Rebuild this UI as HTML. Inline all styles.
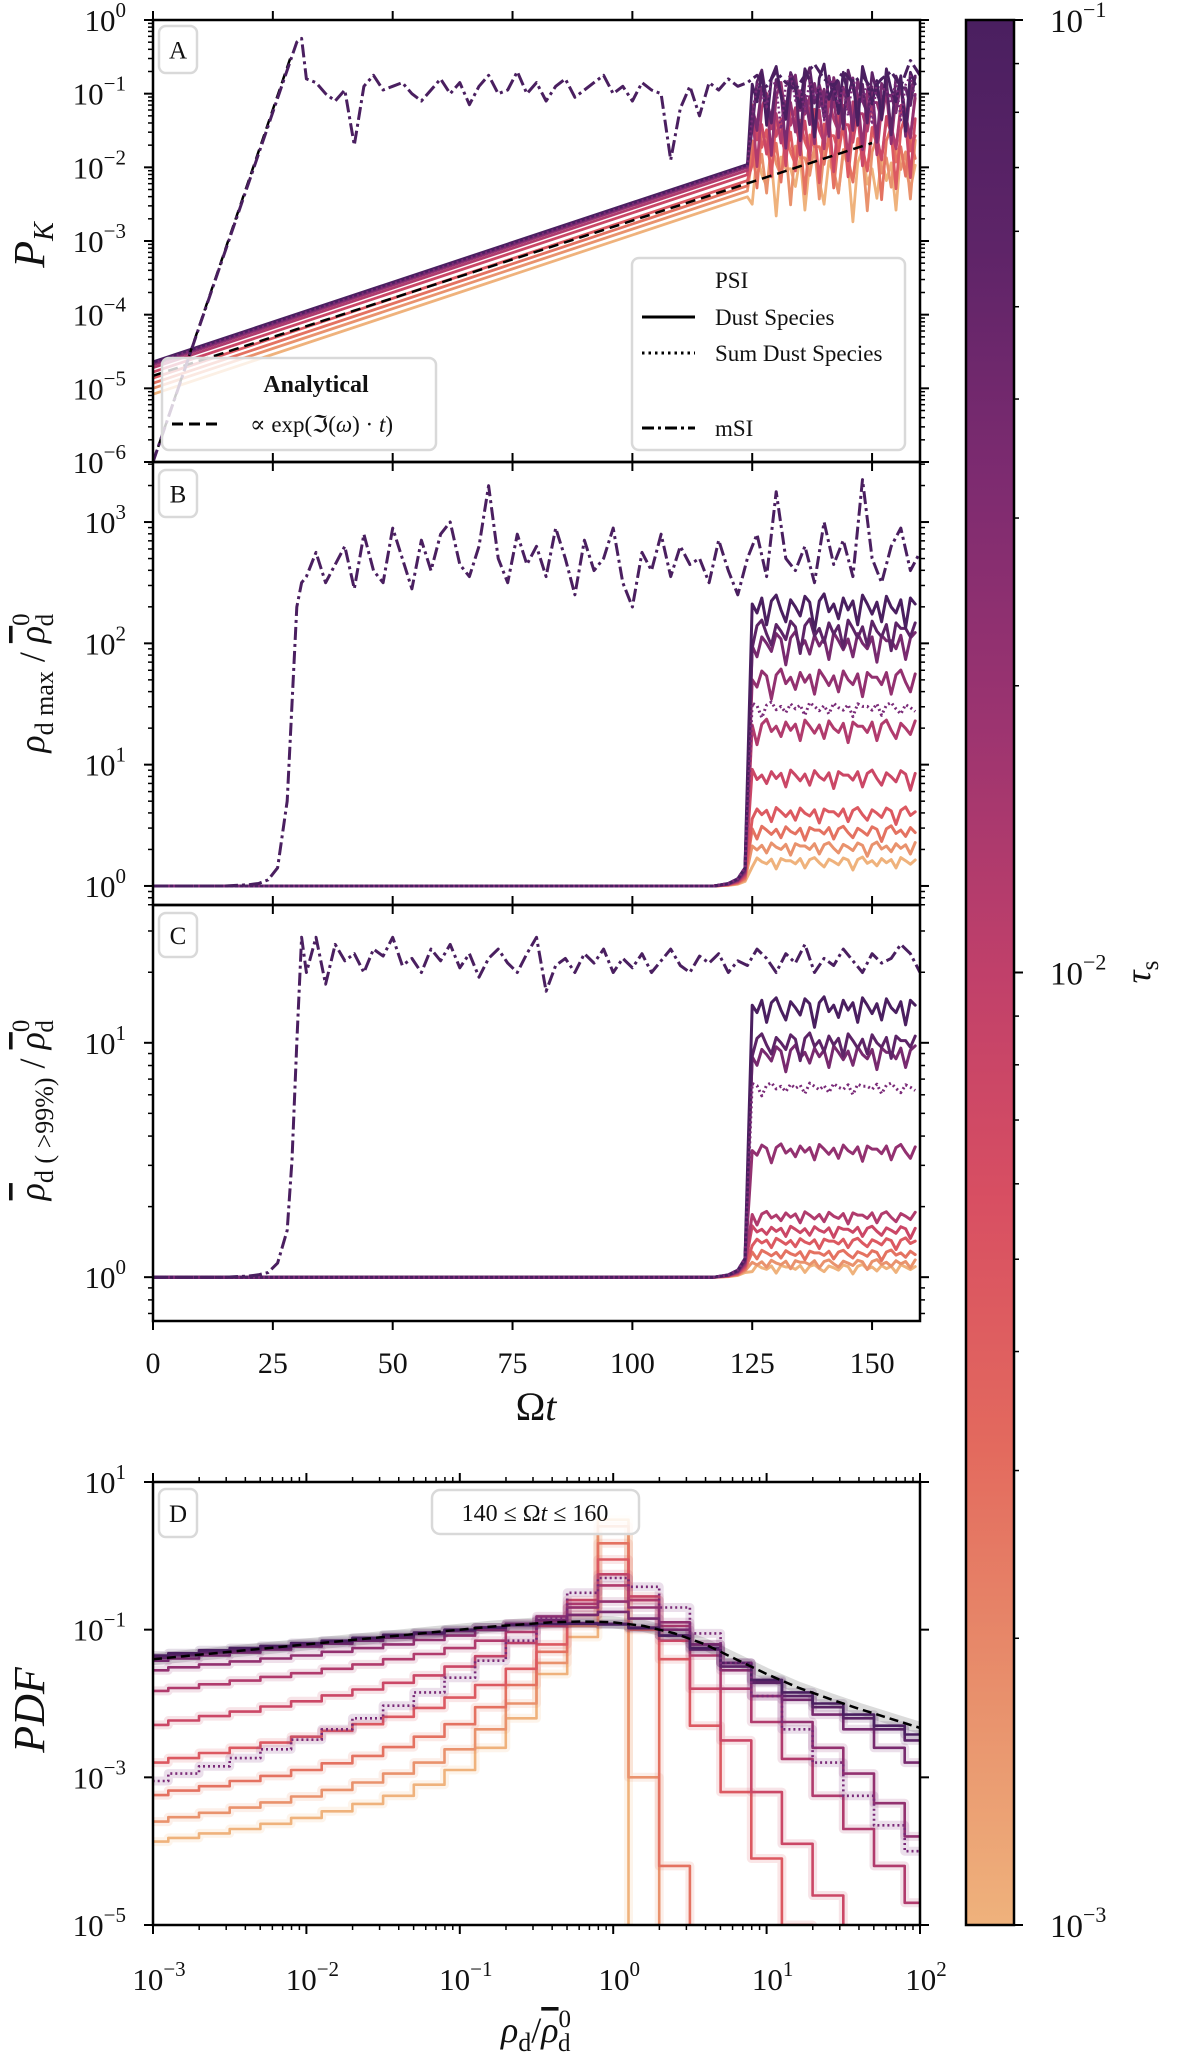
<!DOCTYPE html>
<html><head><meta charset="utf-8"><title>PSI / mSI dust evolution</title>
<style>
html,body{margin:0;padding:0;background:#fff;}
svg{display:block;}
</style></head>
<body>
<svg id="chart" xmlns="http://www.w3.org/2000/svg" width="1200" height="2062" viewBox="0 0 1200 2062" font-family="'Liberation Serif', 'DejaVu Serif', serif">
<defs>
<linearGradient id="cbgrad" x1="0" y1="0" x2="0" y2="1">
<stop offset="0" stop-color="#4a1f60"/><stop offset="0.12" stop-color="#5e2468"/><stop offset="0.24" stop-color="#7d2b70"/>
<stop offset="0.37" stop-color="#9c3470"/><stop offset="0.5" stop-color="#c0406a"/><stop offset="0.62" stop-color="#d84f62"/>
<stop offset="0.75" stop-color="#e36a5e"/><stop offset="0.88" stop-color="#e8906c"/><stop offset="1" stop-color="#efb27c"/>
</linearGradient>
<clipPath id="clipA"><rect x="153" y="20" width="767" height="442"/></clipPath>
<clipPath id="clipB"><rect x="153" y="462" width="767" height="443"/></clipPath>
<clipPath id="clipC"><rect x="153" y="905" width="767" height="416"/></clipPath>
<clipPath id="clipD"><rect x="153" y="1482" width="767" height="443"/></clipPath>
</defs>
</svg>
<script>
// ---------------- data ----------------
const TAU = [0.1, 0.0599, 0.0359, 0.0215, 0.0129, 0.00774, 0.00464, 0.00278, 0.00167, 0.001];
const A_LIN_T = [0, 124];
const A_START = [-4.64, -4.65, -4.66, -4.68, -4.72, -4.78, -4.86, -4.93, -5.0, -5.08];
const A_END = [-1.96, -1.97, -1.98, -2.0, -2.04, -2.1, -2.18, -2.25, -2.32, -2.4];
const A_SUM = [-4.66, -1.98];
const A_LEVEL = [-0.95, -1.0, -1.1, -1.2, -1.35, -1.5, -1.65, -1.8, -1.95, -2.1];
const B_LEVEL = [2.3, 2.1, 2.0, 1.7, 1.3, 0.9, 0.6, 0.45, 0.32, 0.2];
const C_LEVEL = [1.15, 1.0, 0.95, 0.54, 0.26, 0.2, 0.15, 0.1, 0.06, 0.04];
const SUM_LEVEL = [-1.0, 1.47, 0.81];
const FLUCT = [0.05,-0.1,0.15,-0.3,0.1,0.2,-0.05,-0.25,0.12,0.0,-0.15,0.18,0.08,-0.4,0.1,0.22,-0.08,0.05,-0.2,0.15,-0.05,0.1,-0.3,0.2,0.05,-0.12,0.08,-0.25,0.18,0.0,-0.1,0.12,-0.35,0.15,0.05];
const ONSET_T = [0, 117, 120, 122, 123.5];
const ONSET_B = [0, 0, 0.02, 0.06, 0.15];
const ONSET_C = [0, 0, 0.01, 0.03, 0.08];
const ANA_PSI_T = [0, 150];
const ANA_PSI = [-4.83, -1.67];
const ANA_MSI_T = [0, 29];
const ANA_MSI = [-6.0, -0.45];
const MSI_EARLY_T = [0, 5, 10, 15, 20, 22, 24, 26, 28, 29, 30, 31];
const MSI_A_EARLY = [-6.0, -5.05, -4.1, -3.15, -2.2, -1.82, -1.44, -1.06, -0.68, -0.49, -0.3, -0.25];
const MSI_B_EARLY = [0, 0, 0, 0, 0.01, 0.02, 0.05, 0.15, 0.7, 1.5, 2.3, 2.5];
const MSI_C_EARLY = [0, 0, 0, 0, 0.005, 0.01, 0.02, 0.06, 0.2, 0.5, 1.0, 1.45];
const MSI_LATE_T0 = 32;
const MSI_A_LATE = [-0.8,-0.85,-1.0,-1.1,-0.95,-1.7,-0.9,-0.75,-0.95,-0.9,-0.85,-1.0,-1.1,-0.95,-0.8,-1.0,-0.85,-1.15,-0.9,-0.75,-1.0,-0.95,-0.7,-1.0,-0.85,-1.1,-0.9,-0.8,-1.05,-0.95,-0.85,-0.75,-1.0,-0.9,-1.1,-0.85,-0.95,-1.0,-1.9,-1.2,-0.9,-1.3,-0.85,-0.95,-0.8,-0.9,-0.85,-0.75,-0.9,-0.7,-0.85,-0.95,-0.75,-0.6,-0.8,-0.9,-0.7,-0.85,-0.75,-0.95,-0.8,-0.7,-0.9,-0.55,-0.75];
const MSI_B_LATE = [2.55,2.75,2.5,2.65,2.8,2.45,2.9,2.6,2.5,2.95,2.7,2.45,2.85,2.6,2.9,3.0,2.65,2.55,2.8,3.3,2.7,2.5,2.9,2.65,2.8,2.55,2.95,2.7,2.4,2.85,2.6,2.7,2.95,2.5,2.3,2.75,2.6,2.9,2.55,2.8,2.65,2.7,2.5,2.85,2.6,2.4,2.7,2.9,2.55,3.25,2.7,2.6,2.8,2.5,3.0,2.65,2.85,2.55,3.35,2.7,2.5,2.8,2.95,2.6,2.75];
const MSI_C_LATE = [1.3,1.45,1.25,1.42,1.35,1.38,1.3,1.4,1.37,1.45,1.33,1.36,1.3,1.4,1.35,1.42,1.32,1.38,1.28,1.36,1.4,1.34,1.3,1.38,1.45,1.22,1.33,1.36,1.3,1.38,1.34,1.4,1.3,1.36,1.32,1.38,1.3,1.35,1.4,1.33,1.3,1.37,1.34,1.38,1.3,1.35,1.33,1.4,1.36,1.3,1.38,1.34,1.42,1.3,1.36,1.33,1.4,1.35,1.3,1.38,1.34,1.36,1.42,1.38,1.3];
const D_BIN0 = -3.0, D_BINW = 0.2;
const D_PDF = [
 [-1.35,-1.32,-1.28,-1.25,-1.22,-1.18,-1.15,-1.11,-1.07,-1.04,-1.0,-0.97,-0.94,-0.92,-0.92,-0.93,-0.98,-1.08,-1.25,-1.45,-1.68,-1.85,-2.0,-2.15,-2.3,-2.42],
 [-1.38,-1.35,-1.31,-1.28,-1.24,-1.2,-1.17,-1.13,-1.09,-1.05,-1.01,-0.97,-0.94,-0.92,-0.91,-0.92,-0.97,-1.08,-1.27,-1.5,-1.72,-1.9,-2.05,-2.2,-2.35,-2.5],
 [-1.42,-1.39,-1.35,-1.31,-1.27,-1.23,-1.19,-1.15,-1.11,-1.06,-1.02,-0.97,-0.92,-0.87,-0.8,-0.76,-0.85,-1.0,-1.2,-1.45,-1.7,-1.95,-2.15,-2.35,-2.6,-2.8],
 [-1.55,-1.51,-1.47,-1.43,-1.39,-1.35,-1.3,-1.25,-1.2,-1.14,-1.08,-1.0,-0.92,-0.82,-0.7,-0.62,-0.7,-0.9,-1.2,-1.55,-1.9,-2.25,-2.6,-2.95,-3.35,-3.8],
 [-1.83,-1.79,-1.74,-1.69,-1.64,-1.59,-1.53,-1.47,-1.4,-1.33,-1.25,-1.15,-1.03,-0.88,-0.65,-0.4,-0.6,-0.95,-1.35,-1.8,-2.25,-2.75,-3.25,-3.7,-4.2,-4.7],
 [-2.29,-2.23,-2.17,-2.11,-2.04,-1.97,-1.89,-1.81,-1.72,-1.62,-1.5,-1.36,-1.18,-0.95,-0.6,-0.25,-0.55,-1.15,-1.8,-2.5,-3.2,-3.9,-4.6,null,null,null],
 [-2.8,-2.74,-2.67,-2.6,-2.53,-2.45,-2.37,-2.28,-2.18,-2.06,-1.92,-1.75,-1.53,-1.2,-0.7,-0.05,-0.6,-1.4,-2.3,-3.2,-4.1,-5.0,null,null,null,null],
 [-3.24,-3.18,-3.12,-3.05,-2.98,-2.9,-2.81,-2.71,-2.59,-2.45,-2.28,-2.05,-1.75,-1.3,-0.8,0.17,-1.0,-4.2,null,null,null,null,null,null,null,null],
 [-3.6,-3.54,-3.48,-3.41,-3.34,-3.26,-3.17,-3.07,-2.95,-2.8,-2.62,-2.35,-2.0,-1.45,-0.95,0.4,-3.0,null,null,null,null,null,null,null,null,null],
 [-3.87,-3.82,-3.76,-3.7,-3.63,-3.55,-3.46,-3.36,-3.25,-3.1,-2.9,-2.6,-2.2,-1.6,-1.1,0.49,null,null,null,null,null,null,null,null,null,null]
];
const D_SUM = [-3.05,-2.95,-2.85,-2.74,-2.62,-2.49,-2.35,-2.2,-2.03,-1.85,-1.65,-1.42,-1.15,-0.85,-0.5,-0.3,-0.42,-0.7,-1.05,-1.45,-1.9,-2.35,-2.8,-3.25,-3.65,-4.0];
const D_ANA = [-1.4,-1.36,-1.32,-1.28,-1.24,-1.2,-1.16,-1.12,-1.08,-1.04,-1.0,-0.96,-0.93,-0.9,-0.89,-0.9,-0.95,-1.05,-1.2,-1.4,-1.6,-1.78,-1.93,-2.07,-2.2,-2.33];
const T_TICKS = [0, 25, 50, 75, 100, 125, 150];

// ---------------- helpers ----------------
const svg = document.getElementById('chart');
const NS = 'http://www.w3.org/2000/svg';
function mk(tag, attrs, parent) {
  const e = document.createElementNS(NS, tag);
  for (const k in attrs) e.setAttribute(k, attrs[k]);
  (parent || svg).appendChild(e);
  return e;
}
const X0 = 153, X1 = 920;
const xT = t => X0 + t / 160 * (X1 - X0);
const xD = lx => X0 + (lx + 3) / 5 * (X1 - X0);
const P = {
  A: {top: 20, bottom: 462, vmin: -6, vmax: 0},
  B: {top: 462, bottom: 905, vmin: -0.157, vmax: 3.495},
  C: {top: 905, bottom: 1321, vmin: -0.187, vmax: 1.588},
  D: {top: 1482, bottom: 1925, vmin: -5, vmax: 1}
};
function yOf(p, v) { const c = P[p]; return c.bottom - (v - c.vmin) / (c.vmax - c.vmin) * (c.bottom - c.top); }
const STOPS = [[0,'#4a1f60'],[0.12,'#5e2468'],[0.24,'#7d2b70'],[0.37,'#9c3470'],[0.5,'#c0406a'],[0.62,'#d84f62'],[0.75,'#e36a5e'],[0.88,'#e8906c'],[1,'#efb27c']];
function hex2(h){return [parseInt(h.slice(1,3),16),parseInt(h.slice(3,5),16),parseInt(h.slice(5,7),16)];}
function cmap(tau) {
  const f = Math.min(1, Math.max(0, (-1 - Math.log10(tau)) / 2));
  for (let i = 0; i < STOPS.length - 1; i++) {
    if (f <= STOPS[i+1][0]) {
      const a = hex2(STOPS[i][1]), b = hex2(STOPS[i+1][1]);
      const u = (f - STOPS[i][0]) / (STOPS[i+1][0] - STOPS[i][0]);
      return 'rgb(' + a.map((v, k) => Math.round(v + (b[k] - v) * u)).join(',') + ')';
    }
  }
  return STOPS[STOPS.length-1][1];
}
const SUM_COLOR = '#7a2a78';
function pathD(pts) { return pts.map((p, i) => (i ? 'L' : 'M') + p[0].toFixed(1) + ' ' + p[1].toFixed(1)).join(' '); }
const TFS = 31;
function tickLabel(parent, x, y, exp, anchor, size) {
  const s = size || TFS;
  const t = mk('text', {x: x, y: y, 'text-anchor': anchor, 'font-size': s, fill: '#111'}, parent);
  
  
  const a = mk('tspan', {}, t); a.textContent = '10';
  const b = mk('tspan', {dy: -Math.round(s * 0.45), 'font-size': Math.round(s * 0.68)}, t);
  b.textContent = exp < 0 ? '\u2212' + (-exp) : String(exp);
  return t;
}
function line(parent, x1, y1, x2, y2, w) {
  const l = mk('line', {x1: x1, y1: y1, x2: x2, y2: y2, stroke: '#000', 'stroke-width': w || 2}, parent);
  
  
  return l;
}

function timeAxes(p, showLabels) {
  const g = mk('g', {});
  
  
  const c = P[p];
  for (let d = Math.floor(c.vmin); d <= Math.ceil(c.vmax); d++) {
    for (let k = 1; k <= 9; k++) {
      const v = d + Math.log10(k);
      if (v < c.vmin - 1e-6 || v > c.vmax + 1e-6) continue;
      const y = yOf(p, v), L = k === 1 ? 9 : 5;
      line(g, X0 - L, y, X0, y, k === 1 ? 2 : 1.5);
      line(g, X1, y, X1 + L, y, k === 1 ? 2 : 1.5);
      if (k === 1) tickLabel(g, 126, y + 11, d, 'end');
    }
  }
  T_TICKS.forEach(t => {
    line(g, xT(t), c.top - 9, xT(t), c.top);
    line(g, xT(t), c.bottom, xT(t), c.bottom + 9);
    if (showLabels) {
      const tx = mk('text', {x: xT(t), y: 1373, 'text-anchor': 'middle', 'font-size': 30, fill: '#111'}, g);
      
      
      tx.textContent = String(t);
    }
  });
  const r = mk('rect', {x: X0, y: c.top, width: X1 - X0, height: c.bottom - c.top, fill: 'none', stroke: '#000', 'stroke-width': 2.5}, g);
  
  
}
function panelLetter(letter, y0, y1) {
  const r = mk('rect', {x: 159, y: y0, width: 38, height: y1 - y0, rx: 7, fill: '#fff', stroke: '#d9d9d9', 'stroke-width': 2.5});
  
  
  const t = mk('text', {x: 178, y: (y0 + y1) / 2 + 9, 'text-anchor': 'middle', 'font-size': 25, fill: '#111'});
  
  
  t.textContent = letter;
}

function satPts(p, level, shift, amp) {
  const pts = [];
  for (let k = 0; k < FLUCT.length; k++) pts.push([xT(125 + k), yOf(p, level + amp * FLUCT[(k + shift) % FLUCT.length])]);
  return pts;
}
function msiPts(p, early, late) {
  const pts = early.map((v, i) => [xT(MSI_EARLY_T[i]), yOf(p, v)]);
  late.forEach((v, i) => { const t = MSI_LATE_T0 + 2 * i; if (t <= 160) pts.push([xT(t), yOf(p, v)]); });
  return pts;
}
function drawPath(group, pts, color, w, dash, name) {
  const e = mk('path', {d: pathD(pts), fill: 'none', stroke: color, 'stroke-width': w, 'stroke-linejoin': 'round', 'stroke-linecap': dash ? 'butt' : 'round'}, group);
  if (dash) e.setAttribute('stroke-dasharray', dash);
  
  
  return e;
}
const DASHDOT = '13 4 3 4';

(function () {
  const g = mk('g', {'clip-path': 'url(#clipA)'});
  
  
  for (let i = TAU.length - 1; i >= 0; i--) {
    const pts = [[xT(A_LIN_T[0]), yOf('A', A_START[i])], [xT(A_LIN_T[1]), yOf('A', A_END[i])]].concat(satPts('A', A_LEVEL[i], 3 * i, 1.6));
    drawPath(g, pts, cmap(TAU[i]), 2.8, null, 'dust-species-line');
  }
  drawPath(g, [[xT(A_LIN_T[0]), yOf('A', A_SUM[0])], [xT(A_LIN_T[1]), yOf('A', A_SUM[1])]].concat(satPts('A', SUM_LEVEL[0], 7, 1.2)), SUM_COLOR, 2.5, '2 3', 'sum-dust-line');
  drawPath(g, [[xT(ANA_PSI_T[0]), yOf('A', ANA_PSI[0])], [xT(ANA_PSI_T[1]), yOf('A', ANA_PSI[1])]], '#000', 2.5, '10 6', 'analytical-psi-line');
  drawPath(g, [[xT(ANA_MSI_T[0]), yOf('A', ANA_MSI[0])], [xT(ANA_MSI_T[1]), yOf('A', ANA_MSI[1])]], '#000', 2.5, '10 6', 'analytical-msi-line');
  drawPath(g, msiPts('A', MSI_A_EARLY, MSI_A_LATE), '#4a1f60', 3, DASHDOT, 'msi-line');
})();
function densityPanel(p, levels, onset, early, late, sumLevel, amp) {
  const g = mk('g', {'clip-path': 'url(#clip' + p + ')'});
  
  
  for (let i = TAU.length - 1; i >= 0; i--) {
    const pts = ONSET_T.map((t, k) => [xT(t), yOf(p, onset[k] * (1 - i / 12))]).concat(satPts(p, levels[i], 3 * i, amp * (0.4 + levels[i] / levels[0])));
    drawPath(g, pts, cmap(TAU[i]), 3, null, 'dust-species-line');
  }
  const sp = ONSET_T.map((t, k) => [xT(t), yOf(p, onset[k])]).concat(satPts(p, sumLevel, 11, amp * 0.6));
  drawPath(g, sp, SUM_COLOR, 3, '2 3', 'sum-dust-line');
  drawPath(g, msiPts(p, early, late), '#4a1f60', 3, DASHDOT, 'msi-line');
}
densityPanel('B', B_LEVEL, ONSET_B, MSI_B_EARLY, MSI_B_LATE, SUM_LEVEL[1], 0.35);
densityPanel('C', C_LEVEL, ONSET_C, MSI_C_EARLY, MSI_C_LATE, SUM_LEVEL[2], 0.15);

function stepPts(arr) {
  const pts = [];
  for (let j = 0; j < arr.length; j++) {
    const c = D_BIN0 + j * D_BINW;
    if (arr[j] === null) { if (pts.length) pts.push([pts[pts.length-1][0], yOf('D', -5.5)]); break; }
    pts.push([xD(c - D_BINW / 2), yOf('D', arr[j])]);
    pts.push([xD(c + D_BINW / 2), yOf('D', arr[j])]);
  }
  return pts;
}
(function () {
  const g = mk('g', {'clip-path': 'url(#clipD)'});
  
  
  const ana = D_ANA.map((v, j) => [xD(D_BIN0 + j * D_BINW), yOf('D', v)]);
  const band = drawPath(g, ana, '#999', 12, null, 'analytical-pdf-band');
  band.setAttribute('stroke-opacity', '0.35');
  for (let i = TAU.length - 1; i >= 0; i--) {
    const pts = stepPts(D_PDF[i]);
    const sh = drawPath(g, pts, cmap(TAU[i]), 9, null, 'pdf-spread-band');
    sh.setAttribute('stroke-opacity', '0.15');
    drawPath(g, pts, cmap(TAU[i]), 2.6, null, 'pdf-species-step');
  }
  const sp = stepPts(D_SUM);
  const ssh = drawPath(g, sp, SUM_COLOR, 9, null, 'pdf-sum-band');
  ssh.setAttribute('stroke-opacity', '0.15');
  drawPath(g, sp, SUM_COLOR, 2.6, '2 3', 'pdf-sum-dotted');
  drawPath(g, ana, '#000', 2.5, '9 5', 'analytical-pdf-line');
})();

timeAxes('A', false);
timeAxes('B', false);
timeAxes('C', true);
(function () {
  const g = mk('g', {});
  
  
  const c = P.D;
  [1, -1, -3, -5].forEach(d => {
    const y = yOf('D', d);
    line(g, X0 - 9, y, X0, y); line(g, X1, y, X1 + 9, y);
    tickLabel(g, 126, y + 11, d, 'end');
  });
  for (let d = -3; d <= 2; d++) {
    for (let k = 1; k <= 9; k++) {
      const v = d + Math.log10(k);
      if (v > 2 + 1e-6) continue;
      const x = xD(v), L = k === 1 ? 9 : 5, w = k === 1 ? 2 : 1.5;
      line(g, x, c.top - L, x, c.top, w); line(g, x, c.bottom, x, c.bottom + L, w);
      if (k === 1) tickLabel(g, x + 6, 1990, d, 'middle');
    }
  }
  const r = mk('rect', {x: X0, y: c.top, width: X1 - X0, height: c.bottom - c.top, fill: 'none', stroke: '#000', 'stroke-width': 2.5}, g);
  
  
})();

panelLetter('A', 26, 73);
panelLetter('B', 470, 517);
panelLetter('C', 913, 957);
panelLetter('D', 1489, 1537);

(function () {
  const r = mk('rect', {x: 432, y: 1490, width: 207, height: 44, rx: 8, fill: '#fff', 'fill-opacity': 0.85, stroke: '#d9d9d9', 'stroke-width': 2.5});
  
  
  const t = mk('text', {x: 535, y: 1521, 'text-anchor': 'middle', 'font-size': 24, fill: '#111'});
  
  
  t.innerHTML = '140 \u2264 \u03A9<tspan font-style="italic">t</tspan> \u2264 160';
})();

(function () {
  const g = mk('g', {});
  
  
  const r = mk('rect', {x: 162, y: 358, width: 274, height: 92, rx: 7, fill: '#fff', 'fill-opacity': 0.8, stroke: '#d9d9d9', 'stroke-width': 2.5}, g);
  
  
  const h = mk('text', {x: 316, y: 392, 'text-anchor': 'middle', 'font-size': 24, 'font-weight': 'bold', fill: '#111'}, g);
  
  
  h.textContent = 'Analytical';
  const l = mk('line', {x1: 172, y1: 424, x2: 217, y2: 424, stroke: '#000', 'stroke-width': 3, 'stroke-dasharray': '11 6'}, g);
  
  
  const t = mk('text', {x: 250, y: 432, 'font-size': 23, fill: '#111'}, g);
  
  
  t.innerHTML = '\u221D exp(\u2111(<tspan font-style="italic">\u03C9</tspan>) \u00B7 <tspan font-style="italic">t</tspan>)';
})();
(function () {
  const g = mk('g', {});
  
  
  const r = mk('rect', {x: 632, y: 258, width: 273, height: 192, rx: 7, fill: '#fff', 'fill-opacity': 0.8, stroke: '#d9d9d9', 'stroke-width': 2.5}, g);
  
  
  const rows = [['PSI', 288, null, 'legend-psi-title'], ['Dust Species', 325, '', 'legend-entry-dust-species'], ['Sum Dust Species', 361, '2.5 4', 'legend-entry-sum-dust'], ['mSI', 436, '12 4 3 4', 'legend-entry-msi']];
  rows.forEach(rw => {
    const t = mk('text', {x: 715, y: rw[1], 'font-size': 23, fill: '#111'}, g);
    
    
    t.textContent = rw[0];
    if (rw[2] !== null) {
      const l = mk('line', {x1: 642, y1: rw[1] - 8, x2: 695, y2: rw[1] - 8, stroke: '#000', 'stroke-width': 3}, g);
      if (rw[2]) l.setAttribute('stroke-dasharray', rw[2]);
      
      
    }
  });
})();

(function () {
  const g = mk('g', {});
  
  
  const r = mk('rect', {x: 966, y: 20, width: 48, height: 1905, fill: 'url(#cbgrad)', stroke: '#000', 'stroke-width': 2.5}, g);
  
  
  const yc = v => 20 + (-1 - v) * 952.5;
  for (let d = -3; d <= -1; d++) {
    for (let k = 1; k <= 9; k++) {
      const v = d + Math.log10(k);
      if (v > -1 + 1e-6) continue;
      line(g, 1014, yc(v), 1014 + (k === 1 ? 9 : 5), yc(v), k === 1 ? 2 : 1.5);
      if (k === 1) tickLabel(g, 1050, yc(v) + 12, d, 'start', 33);
    }
  }
  const t = mk('text', {x: 1150, y: 972, 'text-anchor': 'middle', 'font-size': 36, fill: '#111', transform: 'rotate(-90 1150 972)'}, g);
  
  
  t.innerHTML = '<tspan font-style="italic">\u03C4</tspan><tspan dy="8" font-size="25">s</tspan>';
})();

function yTitle(cx, cy, html, name, fs) {
  const t = mk('text', {x: cx, y: cy, 'text-anchor': 'middle', 'font-size': fs || 38, fill: '#111', transform: 'rotate(-90 ' + cx + ' ' + cy + ')'});
  
  
  t.innerHTML = html;
}
const RHOBAR = '<tspan font-style="italic" text-decoration="overline">\u03C1</tspan>';
const RHOBAR0 = RHOBAR + '<tspan dy="-15" font-size="25">0</tspan><tspan dy="24" dx="-13" font-size="25">d</tspan><tspan dy="-9"> </tspan>';
yTitle(44, 245, '<tspan font-style="italic" font-size="44">P</tspan><tspan font-style="italic" dy="9" font-size="28">K</tspan>', 'y-axis-title-a');
yTitle(44, 683, '<tspan font-style="italic">\u03C1</tspan><tspan dy="9" font-size="26">d max</tspan><tspan dy="-9"> / </tspan>' + RHOBAR0, 'y-axis-title-b', 36);
yTitle(44, 1110, RHOBAR + '<tspan dy="9" font-size="26">d ( &gt;99%)</tspan><tspan dy="-9"> / </tspan>' + RHOBAR0, 'y-axis-title-c', 36);
yTitle(44, 1710, '<tspan font-style="italic" font-size="44">PDF</tspan>', 'y-axis-title-d');
(function () {
  const t = mk('text', {x: 536, y: 1420, 'text-anchor': 'middle', 'font-size': 40, fill: '#111'});
  
  
  t.innerHTML = '\u03A9<tspan font-style="italic">t</tspan>';
  const u = mk('text', {x: 536, y: 2042, 'text-anchor': 'middle', 'font-size': 36, fill: '#111'});
  
  
  u.innerHTML = '<tspan font-style="italic">\u03C1</tspan><tspan dy="9" font-size="26">d</tspan><tspan dy="-9">/</tspan>' + RHOBAR0;
})();
</script>
</body></html>
